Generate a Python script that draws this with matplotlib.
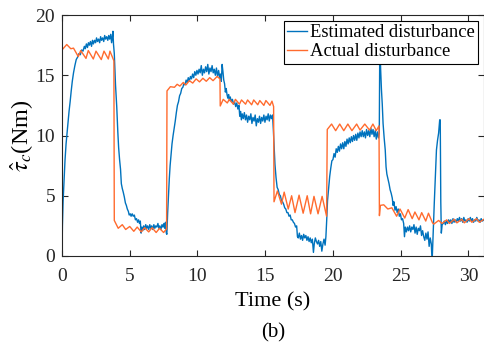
import matplotlib
matplotlib.use("Agg")
import matplotlib.pyplot as plt

## Fonts / style ---------------------------------------------------------------
plt.rcParams['font.family'] = ['Liberation Serif', 'DejaVu Serif']
plt.rcParams['mathtext.fontset'] = 'stix'

## Actual disturbance (piecewise sawtooth) --------------------------------------
act_t = [0.00, 0.35, 0.65, 0.85, 1.20, 1.38, 1.77, 1.94, 2.31, 2.51, 2.90, 3.10, 3.42, 3.54, 3.83,
         3.86, 4.15, 4.45, 4.70, 5.00, 5.30, 5.55, 5.85, 6.10, 6.40, 6.65, 6.95, 7.20, 7.50, 7.72,
         7.75, 8.00, 8.30, 8.50, 8.70, 8.95, 9.15, 9.40, 9.65, 9.90, 10.15, 10.40, 10.65, 10.90, 11.15, 11.45, 11.66,
         11.68, 11.90, 12.20, 12.35, 12.65, 12.80, 13.10, 13.25, 13.55, 13.70, 14.00, 14.15, 14.45, 14.60, 14.90,
         15.05, 15.35, 15.50, 15.62,
         15.65, 15.90, 16.20, 16.40, 16.70, 16.95, 17.20, 17.50, 17.80, 18.10, 18.35, 18.60, 18.90, 19.20, 19.53,
         19.58, 19.90, 20.20, 20.50, 20.80, 21.10, 21.40, 21.75, 22.00, 22.35, 22.70, 22.95, 23.20, 23.40,
         23.43, 23.50, 23.75, 24.05, 24.35, 24.70, 24.95, 25.30, 25.55, 25.85, 26.05, 26.35, 26.55, 26.85,
         27.05, 27.35, 27.45, 27.80, 28.05, 28.40, 28.60, 28.95, 29.15, 29.50, 29.70, 30.05, 30.25, 30.60,
         30.80, 31.15]
act_y = [17.10, 17.55, 17.20, 17.25, 16.55, 17.05, 16.40, 17.05, 16.35, 17.00, 16.30, 17.00, 16.35, 17.00, 16.20,
         2.95, 2.30, 2.60, 2.20, 2.45, 2.05, 2.40, 2.00, 2.35, 2.00, 2.35, 1.95, 2.30, 1.95, 2.25,
         13.70, 14.05, 14.00, 14.25, 14.10, 14.40, 14.20, 14.55, 14.35, 14.70, 14.45, 14.75, 14.50, 14.80, 14.55, 14.90, 14.70,
         12.45, 13.00, 12.70, 13.00, 12.60, 13.00, 12.60, 12.95, 12.60, 12.95, 12.55, 12.95, 12.55, 12.90, 12.50,
         12.90, 12.50, 12.85, 12.40,
         4.50, 5.40, 4.30, 5.30, 3.90, 5.00, 3.60, 5.05, 3.55, 5.00, 3.50, 4.95, 3.50, 4.95, 3.30,
         10.50, 10.95, 10.40, 10.95, 10.40, 10.95, 10.40, 10.95, 10.45, 10.95, 10.45, 10.95, 10.40, 10.80,
         3.35, 4.20, 4.25, 3.90, 4.00, 3.30, 3.90, 3.15, 3.85, 3.10, 3.65, 3.00, 3.60, 2.90,
         3.55, 2.75, 2.65, 2.95, 2.70, 3.00, 2.70, 3.05, 2.75, 3.05, 2.75, 3.10, 2.80, 3.10,
         2.80, 3.05]

## Estimated disturbance (noisy observer output) --------------------------------
est_t = [0.00, 0.03, 0.08, 0.15, 0.22, 0.30, 0.38, 0.45, 0.52, 0.60, 0.68, 0.76, 0.85, 0.95, 1.05, 1.15,
         1.25, 1.35, 1.45, 1.55, 1.65, 1.72, 1.80, 1.88, 1.95, 2.02, 2.10, 2.18, 2.25, 2.32, 2.40, 2.48,
         2.55, 2.62, 2.70, 2.78, 2.85, 2.92, 3.00, 3.08, 3.15, 3.22, 3.30, 3.38, 3.45, 3.52, 3.60, 3.66,
         3.72, 3.76, 3.80, 3.86, 3.95, 4.04, 4.12, 4.18, 4.25, 4.32, 4.38, 4.45, 4.52, 4.60, 4.68, 4.75,
         4.82, 4.90, 4.96, 5.04, 5.10, 5.18, 5.26, 5.34, 5.42, 5.50, 5.58, 5.65, 5.72, 5.78, 5.84, 5.90,
         5.96, 6.03, 6.10, 6.18, 6.25, 6.32, 6.40, 6.48, 6.55, 6.62, 6.70, 6.78, 6.85, 6.92, 7.00, 7.08,
         7.15, 7.22, 7.30, 7.38, 7.45, 7.52, 7.58, 7.64, 7.70, 7.74, 7.80, 7.86, 7.92, 7.98, 8.05, 8.12,
         8.20, 8.28, 8.36, 8.44, 8.52, 8.60, 8.68, 8.76, 8.84, 8.92, 9.00, 9.08, 9.16, 9.24, 9.32, 9.40,
         9.48, 9.56, 9.64, 9.72, 9.80, 9.88, 9.96, 10.04, 10.12, 10.20, 10.28, 10.36, 10.44, 10.52, 10.60, 10.68,
         10.76, 10.84, 10.92, 11.00, 11.08, 11.16, 11.24, 11.32, 11.40, 11.48, 11.56, 11.64, 11.70, 11.76, 11.82, 11.88,
         11.94, 12.00, 12.06, 12.12, 12.18, 12.24, 12.30, 12.36, 12.42, 12.50, 12.58, 12.66, 12.74, 12.82, 12.90, 12.98,
         13.06, 13.12, 13.18, 13.24, 13.30, 13.38, 13.46, 13.54, 13.62, 13.70, 13.78, 13.86, 13.94, 14.02, 14.10, 14.18,
         14.26, 14.34, 14.42, 14.50, 14.58, 14.66, 14.74, 14.82, 14.90, 14.98, 15.06, 15.14, 15.22, 15.30, 15.38, 15.46,
         15.54, 15.60, 15.66, 15.72, 15.80, 15.88, 15.96, 16.04, 16.12, 16.20, 16.28, 16.36, 16.44, 16.52, 16.60, 16.68,
         16.76, 16.84, 16.92, 17.00, 17.08, 17.16, 17.24, 17.32, 17.38, 17.44, 17.52, 17.60, 17.68, 17.76, 17.84, 17.92,
         18.00, 18.08, 18.16, 18.24, 18.32, 18.40, 18.48, 18.56, 18.62, 18.70, 18.78, 18.86, 18.94, 19.02, 19.10, 19.18,
         19.26, 19.34, 19.42, 19.48, 19.54, 19.60, 19.68, 19.76, 19.84, 19.92, 20.00, 20.08, 20.16, 20.24, 20.32, 20.40,
         20.48, 20.56, 20.64, 20.72, 20.80, 20.88, 20.96, 21.04, 21.12, 21.20, 21.28, 21.36, 21.44, 21.52, 21.60, 21.68,
         21.76, 21.84, 21.92, 22.00, 22.08, 22.16, 22.24, 22.32, 22.40, 22.48, 22.56, 22.64, 22.72, 22.80, 22.88, 22.96,
         23.04, 23.12, 23.20, 23.28, 23.36, 23.42, 23.46, 23.52, 23.58, 23.64, 23.70, 23.78, 23.86, 23.92, 23.98, 24.06,
         24.14, 24.22, 24.30, 24.38, 24.44, 24.50, 24.58, 24.66, 24.74, 24.82, 24.90, 24.98, 25.06, 25.14, 25.22, 25.28,
         25.34, 25.42, 25.50, 25.58, 25.66, 25.74, 25.82, 25.90, 25.98, 26.06, 26.14, 26.22, 26.30, 26.38, 26.46, 26.54,
         26.62, 26.70, 26.78, 26.86, 26.94, 27.02, 27.10, 27.18, 27.26, 27.32, 27.40, 27.48, 27.56, 27.64, 27.72, 27.80,
         27.88, 27.92, 27.96, 28.00, 28.06, 28.14, 28.22, 28.30, 28.38, 28.46, 28.54, 28.62, 28.70, 28.78, 28.86, 28.94,
         29.02, 29.10, 29.18, 29.26, 29.34, 29.42, 29.50, 29.58, 29.66, 29.74, 29.82, 29.90, 29.98, 30.06, 30.14, 30.22,
         30.30, 30.38, 30.46, 30.54, 30.62, 30.70, 30.78, 30.86, 30.94, 31.02, 31.15]
est_y = [0.0, 2.5, 4.5, 6.3, 7.9, 9.3, 10.3, 11.2, 12.0, 12.8, 13.7, 14.5, 15.2, 15.8, 16.3, 16.5,
         16.8, 16.7, 17.1, 17.0, 17.4, 17.2, 17.6, 17.3, 17.7, 17.5, 17.8, 17.4, 17.9, 17.6, 17.9, 17.7,
         18.1, 17.8, 18.0, 17.7, 18.2, 17.9, 18.1, 17.8, 18.3, 18.0, 18.2, 17.9, 18.3, 18.0, 18.4, 17.7,
         18.2, 18.65, 17.6, 16.8, 14.2, 12.4, 10.3, 9.0, 8.0, 7.2, 6.0, 5.6, 5.3, 4.9, 4.4, 4.2,
         3.9, 3.7, 3.4, 3.5, 3.3, 3.5, 3.3, 3.4, 3.0, 3.1, 2.8, 3.0, 2.7, 2.9, 1.9, 2.4,
         2.1, 2.5, 2.2, 2.6, 2.3, 2.5, 2.2, 2.6, 2.3, 2.5, 2.2, 2.6, 2.3, 2.5, 2.4, 2.7,
         2.3, 2.5, 2.2, 2.6, 2.4, 2.7, 2.3, 2.8, 1.9, 1.8, 3.6, 5.0, 6.4, 7.5, 8.4, 9.3,
         10.0, 10.6, 11.2, 11.9, 12.5, 12.8, 13.3, 13.5, 13.9, 14.0, 14.3, 14.2, 14.6, 14.4, 14.8, 14.5,
         14.9, 14.7, 15.1, 14.8, 15.3, 15.0, 15.4, 15.1, 15.5, 15.2, 15.8, 15.0, 15.5, 15.2, 15.7, 15.3,
         15.9, 15.1, 15.6, 15.3, 15.8, 15.2, 15.5, 15.0, 15.6, 14.9, 15.4, 14.8, 15.1, 14.5, 15.9, 15.3,
         14.6, 14.3, 13.6, 13.9, 13.4, 13.1, 13.4, 12.9, 13.2, 12.8, 13.0, 12.6, 12.8, 12.4, 12.7, 12.2,
         12.5, 11.6, 12.0, 11.3, 11.8, 11.4, 11.9, 11.3, 11.7, 11.1, 11.6, 11.3, 11.8, 11.0, 11.5, 11.2,
         11.7, 10.8, 11.4, 11.1, 11.6, 11.0, 11.5, 11.2, 11.7, 11.1, 11.6, 11.3, 11.8, 11.2, 11.7, 11.4,
         11.7, 10.5, 9.0, 7.6, 6.5, 5.7, 5.5, 5.1, 5.0, 4.6, 4.5, 4.3, 4.0, 3.9, 3.6, 3.6,
         3.3, 3.4, 3.0, 3.0, 2.8, 2.7, 2.4, 2.5, 1.6, 1.5, 1.9, 1.4, 1.7, 1.3, 1.8, 1.5,
         1.7, 1.3, 1.6, 1.2, 1.5, 1.1, 1.4, 0.3, 1.0, 1.5, 1.2, 1.0, 1.3, 0.8, 1.2, 0.4,
         1.0, 1.4, 0.9, 1.6, 3.0, 4.6, 5.6, 6.6, 7.3, 7.9, 8.0, 8.5, 8.2, 8.9, 8.6, 9.1,
         8.7, 9.3, 8.9, 9.4, 8.9, 9.5, 9.1, 9.7, 9.3, 9.8, 9.4, 9.9, 9.5, 10.0, 9.6, 10.1,
         9.6, 10.2, 9.8, 10.3, 9.9, 10.4, 9.9, 10.3, 9.8, 10.5, 10.0, 10.4, 9.9, 10.6, 10.1, 10.5,
         9.9, 10.4, 9.7, 10.3, 9.8, 10.2, 18.0, 15.5, 13.8, 12.6, 11.0, 9.8, 8.8, 7.4, 6.8, 6.4,
         6.0, 5.5, 5.2, 4.8, 4.2, 4.5, 3.8, 4.1, 3.6, 3.9, 3.3, 3.5, 3.0, 3.1, 2.7, 1.6,
         2.4, 2.0, 2.4, 2.1, 2.5, 2.0, 2.4, 2.2, 2.6, 1.9, 2.4, 1.8, 2.3, 2.1, 2.5, 1.7,
         2.1, 1.6, 1.3, 1.9, 1.4, 2.0, 0.8, 1.5, 1.0, -0.5, 2.0, 4.4, 6.5, 8.8, 9.6, 10.2,
         11.3, 11.3, 4.5, 1.9, 2.6, 2.7, 2.9, 2.6, 2.9, 2.7, 3.0, 2.8, 3.0, 2.7, 3.1, 2.8,
         3.0, 2.8, 3.1, 2.9, 3.2, 2.9, 3.1, 2.8, 3.2, 2.9, 3.0, 2.8, 3.1, 2.9, 3.2, 2.9,
         3.1, 2.8, 3.0, 2.9, 3.2, 2.9, 3.0, 2.8, 3.1, 2.9, 3.0]

blue = '#0072BD'
orange = '#FF6B2E'

## Figure ------------------------------------------------------------------------
fig = plt.figure(figsize=(4.85, 3.45), dpi=100)
ax = fig.add_axes([62/485, 1-256/345, 422/485, 241/345])

ax.plot(est_t, est_y, color=blue, lw=1.0, label='Estimated disturbance')
ax.plot(act_t, act_y, color=orange, lw=1.0, label='Actual disturbance')

ax.set_xlim(0, 31.15)
ax.set_ylim(0, 20)
ax.set_xticks([0, 5, 10, 15, 20, 25, 30])
ax.set_yticks([0, 5, 10, 15, 20])
ax.tick_params(direction='in', length=4, width=0.8, top=True, right=True,
               labelsize=14, colors='#262626', pad=5)
ax.tick_params(axis='x', pad=8.5)
for s in ax.spines.values():
    s.set_linewidth(0.8)
    s.set_color('#262626')

ax.set_xlabel('Time (s)', fontsize=16, labelpad=5)
ax.set_ylabel(r'$\hat{\tau}_c$(Nm)', fontsize=17.5, labelpad=0)

leg = ax.legend(loc='upper right', fontsize=13.4, handlelength=1.07, handletextpad=0.15,
                borderpad=0.2, labelspacing=0.1, borderaxespad=0.3, fancybox=False,
                framealpha=1.0, edgecolor='black')
leg.get_frame().set_linewidth(0.8)

fig.text(273/485, 1-333/345, '(b)', ha='center', va='center', fontsize=15)

fig.savefig('out.png', dpi=100)
